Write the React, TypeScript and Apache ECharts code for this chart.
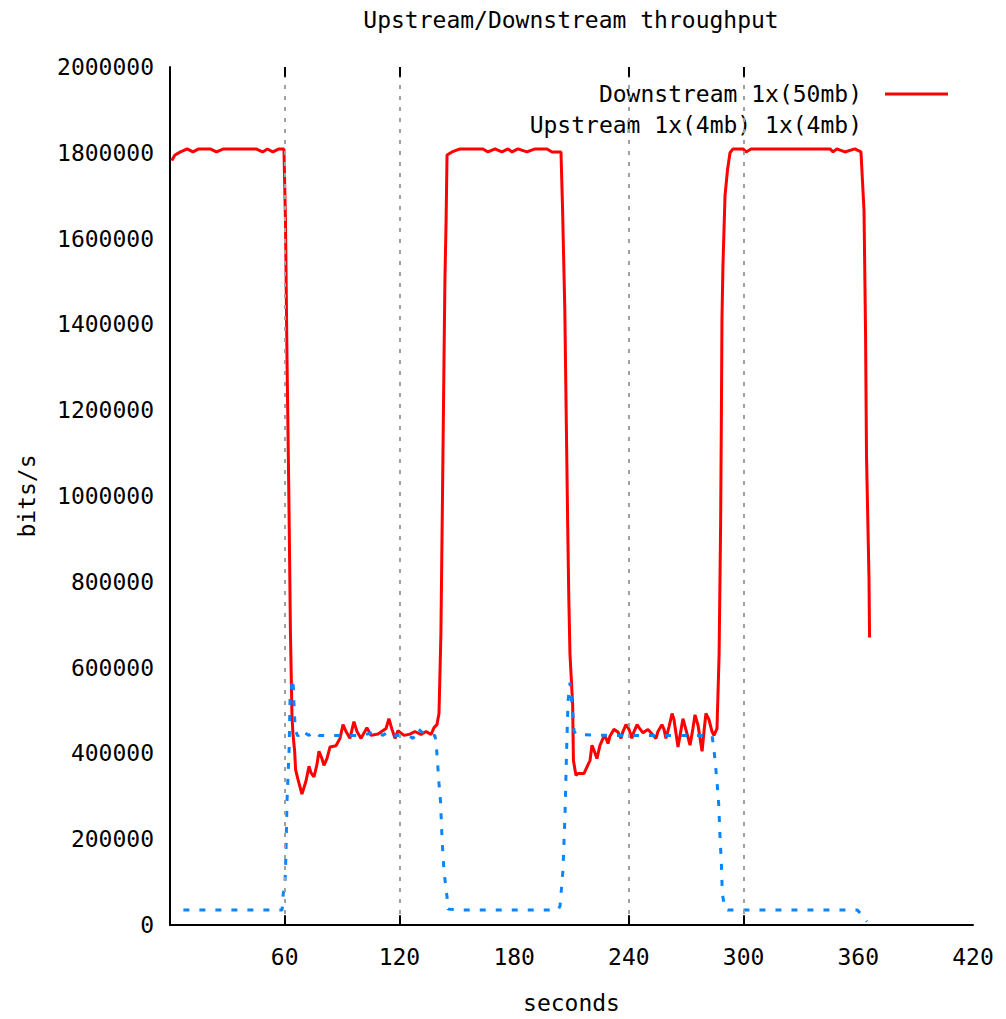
import React, { useEffect, useRef } from "react";
import * as echarts from "echarts";

const titleText = "Upstream/Downstream throughput";
const xAxisName = "seconds";
const yAxisName = "bits/s";
const downName = "Downstream 1x(50mb)";
const upName = "Upstream 1x(4mb) 1x(4mb)";
const markerTimes = [60, 120, 240, 300];

const downTime = [
  0.9, 2.6, 5.5, 9.0, 12.0, 15.0, 21.0, 24.3, 28.0, 45.0, 48.4, 51.0, 53.8, 57.0, 59.6,
  60.4, 61.2, 62.2, 63.0, 63.8, 64.3, 65.2, 65.7, 66.9, 69.0, 71.1, 72.7, 73.7, 75.3, 76.9,
  77.9, 79.5, 80.5, 82.1, 83.7, 86.8, 88.9, 90.5, 92.1, 94.1, 96.2, 97.8, 99.9, 103.0, 105.1,
  108.8, 113.0, 114.5, 116.1, 117.7, 119.2, 122.4, 125.5, 128.1, 131.3, 133.9, 136.5, 138.1,
  139.6, 140.7, 141.7, 142.5, 143.3, 143.8, 144.4, 144.9, 147.5, 151.7, 163.7, 166.3, 170.0,
  173.6, 176.8, 178.9, 182.0, 186.7, 190.9, 197.2, 199.8, 204.5, 205.3, 206.5, 207.2, 208.0,
  208.6, 209.2, 210.6, 211.0, 212.3, 213.4, 216.5, 219.7, 220.7, 221.8, 223.3, 224.9, 226.5,
  227.5, 229.1, 230.1, 232.2, 234.3, 235.9, 236.9, 238.5, 240.1, 241.6, 242.7, 244.3, 245.3,
  247.4, 250.0, 252.1, 254.2, 255.2, 257.3, 258.4, 259.4, 261.0, 262.6, 263.6, 265.7, 268.3,
  270.9, 272.0, 273.5, 274.6, 276.2, 278.3, 279.3, 280.3, 281.9, 283.5, 284.5, 286.1, 287.2,
  288.0, 288.4, 288.7, 289.2, 290.3, 291.6, 292.9, 294.5, 299.7, 301.3, 303.9, 345.2, 346.8,
  348.8, 353.0, 358.2, 361.4, 363.0, 363.8, 364.3, 365.6, 365.9,
];
const downRate = [
  1782000, 1795000, 1802000, 1809000, 1802000, 1809000, 1809000, 1802000, 1809000, 1809000, 1802000, 1809000, 1802000, 1809000, 1809000,
  1640000, 1320000, 990000, 680000, 488000, 446000, 405000, 362000, 340000, 305000, 335000, 370000, 355000, 345000, 375000,
  405000, 388000, 372000, 388000, 415000, 418000, 435000, 467000, 451000, 435000, 474000, 451000, 435000, 460000, 442000,
  445000, 458000, 481000, 456000, 435000, 453000, 442000, 445000, 451000, 444000, 451000, 444000, 460000,
  467000, 493000, 680000, 990000, 1310000, 1505000, 1640000, 1795000, 1802000, 1809000, 1809000, 1802000, 1809000,
  1802000, 1809000, 1802000, 1809000, 1802000, 1809000, 1809000, 1802000, 1802000, 1674000, 1435000, 1200000, 935000,
  760000, 632000, 514000, 384000, 349000, 353000, 353000, 384000, 419000, 407000, 388000, 419000, 435000,
  442000, 423000, 440000, 456000, 450000, 435000, 451000, 467000, 456000, 435000, 451000, 467000, 460000,
  448000, 456000, 445000, 435000, 451000, 467000, 456000, 435000, 462000, 493000, 479000, 415000, 481000,
  438000, 419000, 458000, 490000, 465000, 405000, 451000, 493000, 479000, 451000, 442000, 458000, 630000,
  935000, 1190000, 1412000, 1535000, 1700000, 1760000, 1800000, 1809000, 1809000, 1802000, 1809000, 1809000, 1802000,
  1809000, 1802000, 1809000, 1802000, 1665000, 1380000, 1093000, 809000, 670000,
];

const upTime = [
  7.0, 58.6, 58.9, 59.2, 60.1, 60.6, 61.2, 62.3, 62.8, 64.3, 65.0, 65.6, 66.9, 68.5, 72.7,
  75.3, 77.9, 84.2, 93.6, 100.4, 108.3, 111.4, 114.0, 117.7, 124.5, 127.1, 128.1, 129.7,
  131.3, 134.9, 138.6, 139.4, 140.7, 141.5, 142.3, 143.3, 144.9, 145.4, 152.7, 202.9, 204.0,
  205.5, 206.6, 207.3, 208.2, 209.2, 210.8, 211.3, 212.3, 230.0, 250.0, 270.0, 283.5, 284.5,
  285.2, 286.1, 287.0, 287.6, 288.4, 288.9, 290.3, 291.8, 359.5, 361.5, 364.5,
];
const upRate = [
  35000, 35000, 47000, 72000, 91000, 158000, 288000, 409000, 533000, 574000, 498000, 453000, 440000, 453000, 442000,
  451000, 442000, 442000, 442000, 442000, 451000, 442000, 451000, 442000, 442000, 435000, 442000, 458000,
  451000, 442000, 442000, 412000, 330000, 288000, 200000, 126000, 65000, 37000, 35000, 35000, 44000,
  126000, 256000, 384000, 523000, 565000, 488000, 453000, 444000, 442000, 442000, 442000, 442000, 410000,
  377000, 335000, 281000, 214000, 142000, 72000, 37000, 35000, 35000, 25000, 8000,
];

const FONT = "'DejaVu Sans Mono', 'Liberation Mono', monospace";

export default function App() {
  const ref = useRef<HTMLDivElement>(null);

  useEffect(() => {
    if (!ref.current) return;
    const chart = echarts.init(ref.current, undefined, { renderer: "svg" });

    const downData = downTime.map((t, i) => [t, downRate[i]]);
    const upData = upTime.map((t, i) => [t, upRate[i]]);

    const markData: any[] = [];
    markerTimes.forEach((t) => {
      markData.push({ xAxis: t });
    });
    markerTimes.forEach((t) => {
      markData.push([
        { coord: [t, 0], lineStyle: { color: "#000", type: "solid", width: 2 } },
        { coord: [t, 23000] },
      ]);
      markData.push([
        { coord: [t, 2000000], lineStyle: { color: "#000", type: "solid", width: 2 } },
        { coord: [t, 1977000] },
      ]);
    });

    chart.setOption({
      animation: false,
      backgroundColor: "#ffffff",
      textStyle: { fontFamily: FONT },
      grid: { left: 170, right: 33, top: 67, bottom: 92, containLabel: false },
      xAxis: {
        type: "value",
        min: 0,
        max: 420,
        interval: 60,
        name: xAxisName,
        nameLocation: "middle",
        nameGap: 66,
        nameTextStyle: { fontFamily: FONT, fontSize: 23, color: "#000" },
        axisLine: { show: true, onZero: false, lineStyle: { color: "#000", width: 2 } },
        axisTick: { show: false },
        splitLine: { show: false },
        axisLabel: {
          fontFamily: FONT,
          fontSize: 23,
          color: "#000",
          margin: 20,
          formatter: (v: number) => (v === 0 ? "" : String(v)),
        },
      },
      yAxis: {
        type: "value",
        min: 0,
        max: 2000000,
        interval: 200000,
        name: yAxisName,
        nameLocation: "middle",
        nameGap: 132,
        nameRotate: 90,
        nameTextStyle: { fontFamily: FONT, fontSize: 23, color: "#000" },
        axisLine: { show: true, lineStyle: { color: "#000", width: 2 } },
        axisTick: { show: false },
        splitLine: { show: false },
        axisLabel: {
          fontFamily: FONT,
          fontSize: 23,
          color: "#000",
          margin: 16,
          formatter: (v: number) => String(v),
        },
      },
      graphic: [
        {
          type: "text",
          x: 571,
          y: 20,
          style: {
            text: titleText,
            fontFamily: FONT,
            fontSize: 23,
            fill: "#000",
            textAlign: "center",
            textVerticalAlign: "middle",
          },
        },
        {
          type: "text",
          x: 862,
          y: 94,
          style: {
            text: downName,
            fontFamily: FONT,
            fontSize: 23,
            fill: "#000",
            textAlign: "right",
            textVerticalAlign: "middle",
          },
        },
        {
          type: "line",
          shape: { x1: 885, y1: 94, x2: 948, y2: 94 },
          style: { stroke: "#ff0000", lineWidth: 3 },
        },
        {
          type: "text",
          x: 862,
          y: 125,
          style: {
            text: upName,
            fontFamily: FONT,
            fontSize: 23,
            fill: "#000",
            textAlign: "right",
            textVerticalAlign: "middle",
          },
        },
      ],
      series: [
        {
          type: "line",
          name: "markers",
          data: [],
          silent: true,
          markLine: {
            silent: true,
            symbol: ["none", "none"],
            label: { show: false },
            lineStyle: { color: "#a0a0a0", type: [4, 7], width: 2 },
            data: markData,
          },
        },
        {
          type: "line",
          name: downName,
          data: downData,
          showSymbol: false,
          symbol: "none",
          lineStyle: { color: "#ff0000", width: 3 },
          itemStyle: { color: "#ff0000" },
        },
        {
          type: "line",
          name: upName,
          data: upData,
          showSymbol: false,
          symbol: "none",
          lineStyle: { color: "#0a84ff", width: 3, type: [6, 10] },
          itemStyle: { color: "#0a84ff" },
        },
      ],
    });

    return () => {
      chart.dispose();
    };
  }, []);

  return (
    <div
      ref={ref}
      style={{ position: "absolute", left: 0, top: 0, width: 1006, height: 1019 }}
    />
  );
}
